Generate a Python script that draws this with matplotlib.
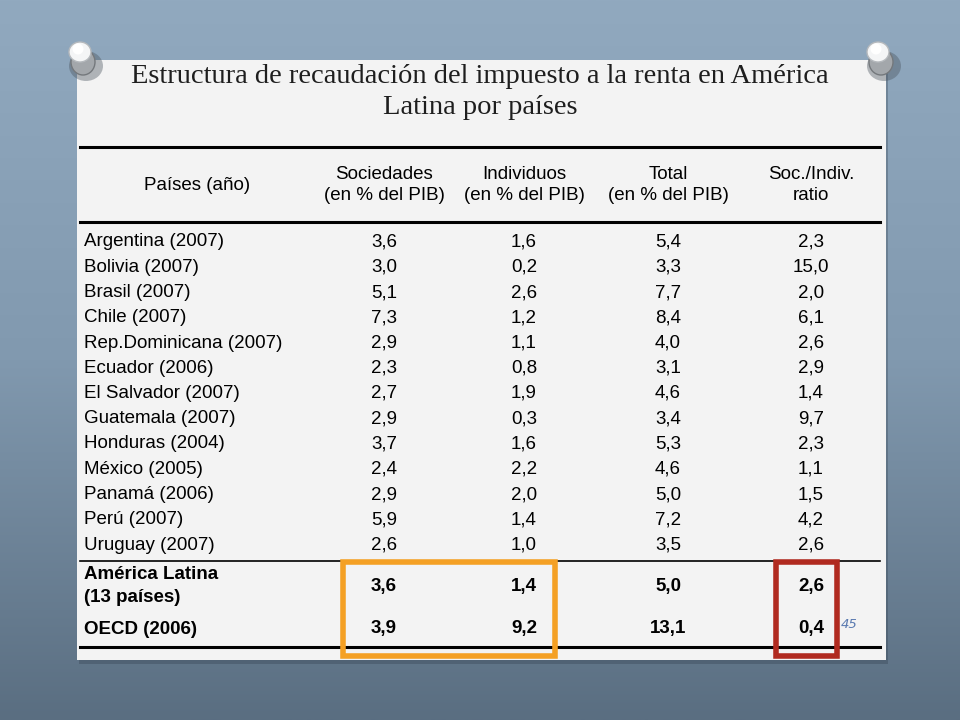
import matplotlib
matplotlib.use("Agg")
import matplotlib.pyplot as plt
import numpy as np
from matplotlib.patches import Rectangle, Circle, Ellipse
from matplotlib.colors import LinearSegmentedColormap

title = "Estructura de recaudación del impuesto a la renta en América\nLatina por países"
headers = ["Países (año)", "Sociedades\n(en % del PIB)", "Individuos\n(en % del PIB)",
           "Total\n(en % del PIB)", "Soc./Indiv.\nratio"]
countries = ["Argentina (2007)", "Bolivia (2007)", "Brasil (2007)", "Chile (2007)",
             "Rep.Dominicana (2007)", "Ecuador (2006)", "El Salvador (2007)",
             "Guatemala (2007)", "Honduras (2004)", "México (2005)", "Panamá (2006)",
             "Perú (2007)", "Uruguay (2007)"]
sociedades = ["3,6", "3,0", "5,1", "7,3", "2,9", "2,3", "2,7", "2,9", "3,7", "2,4", "2,9", "5,9", "2,6"]
individuos = ["1,6", "0,2", "2,6", "1,2", "1,1", "0,8", "1,9", "0,3", "1,6", "2,2", "2,0", "1,4", "1,0"]
total = ["5,4", "3,3", "7,7", "8,4", "4,0", "3,1", "4,6", "3,4", "5,3", "4,6", "5,0", "7,2", "3,5"]
ratio = ["2,3", "15,0", "2,0", "6,1", "2,6", "2,9", "1,4", "9,7", "2,3", "1,1", "1,5", "4,2", "2,6"]
summary_labels = ["América Latina\n(13 países)", "OECD (2006)"]
summary_soc = ["3,6", "3,9"]
summary_ind = ["1,4", "9,2"]
summary_tot = ["5,0", "13,1"]
summary_rat = ["2,6", "0,4"]
page_number = "45"

W, H = 960, 720
fig = plt.figure(figsize=(9.6, 7.2), dpi=100)
ax = fig.add_axes([0, 0, 1, 1])
ax.set_xlim(0, W)
ax.set_ylim(H, 0)
ax.axis("off")

# background gradient
grad = np.linspace(0, 1, 256)[:, None]
cmap = LinearSegmentedColormap.from_list("bg", ["#91a9bf", "#8199af", "#5a6e81"])
ax.imshow(grad, extent=[0, W, H, 0], aspect="auto", cmap=cmap, zorder=0)

# paper shadow and paper
ax.add_patch(Rectangle((79, 63), 809, 601, facecolor="#2e3a46", alpha=0.30, zorder=1, lw=0))
ax.add_patch(Rectangle((77, 60), 809, 600, facecolor="#f3f3f3", edgecolor="none", zorder=2))

# pins
for px, py in [(80, 52), (878, 52)]:
    ax.add_patch(Ellipse((px + 6, py + 14), 34, 30, facecolor="#4a545e", alpha=0.40, zorder=3, lw=0))
    ax.add_patch(Ellipse((px + 3, py + 10), 24, 26, facecolor="#a3a7ab", edgecolor="#74787c", lw=1, zorder=4))
    ax.add_patch(Ellipse((px, py), 22, 20, facecolor="#f4f5f6", edgecolor="#b5b9bd", lw=1, zorder=5))
    ax.add_patch(Circle((px - 2, py - 3), 5.5, facecolor="white", edgecolor="none", zorder=6))

# title
ax.text(480, 92, title, ha="center", va="center", fontsize=20.5, family="Liberation Serif",
        color="#1e1e1e", linespacing=1.28, zorder=10)

# table lines
x0, x1 = 80, 880
ax.plot([x0, x1], [147, 147], color="black", lw=2.2, zorder=10)
ax.plot([x0, x1], [222, 222], color="black", lw=2.2, zorder=10)
ax.plot([x0, x1], [561, 561], color="black", lw=1.2, zorder=10)
ax.plot([x0, x1], [647, 647], color="black", lw=2.2, zorder=10)

fs = 13.5
sans = "Liberation Sans"
col_x = [197, 384, 524, 668, 811]
for i, h in enumerate(headers):
    ax.text(col_x[i], 185, h, ha="center", va="center", fontsize=fs, family=sans,
            linespacing=1.32, zorder=10)

row_y0, row_dy = 242, 25.25
for i, c in enumerate(countries):
    y = row_y0 + i * row_dy
    ax.text(84, y, c, ha="left", va="center", fontsize=fs, family=sans, zorder=10)
    for j, vals in enumerate([sociedades, individuos, total, ratio]):
        ax.text(col_x[j + 1], y, vals[i], ha="center", va="center", fontsize=fs,
                family=sans, zorder=10)

sum_y = [586, 629]
ax.text(84, 586, summary_labels[0], ha="left", va="center", fontsize=fs, family=sans,
        fontweight="bold", linespacing=1.45, zorder=10)
ax.text(84, 629, summary_labels[1], ha="left", va="center", fontsize=fs, family=sans,
        fontweight="bold", zorder=10)
for k in range(2):
    for j, vals in enumerate([summary_soc, summary_ind, summary_tot, summary_rat]):
        ax.text(col_x[j + 1], sum_y[k], vals[k], ha="center", va="center", fontsize=fs,
                family=sans, fontweight="bold", zorder=10)

# highlight boxes
ax.add_patch(Rectangle((343, 562), 212, 94, facecolor="none", edgecolor="#f4a024", lw=4, zorder=11))
ax.add_patch(Rectangle((776, 562), 61, 94, facecolor="none", edgecolor="#b02a1f", lw=4, zorder=11))

ax.text(849, 625, page_number, ha="center", va="center", fontsize=9.5, style="italic",
        color="#5a7ab0", family="DejaVu Sans", zorder=10)

fig.savefig("out.png", dpi=100)
